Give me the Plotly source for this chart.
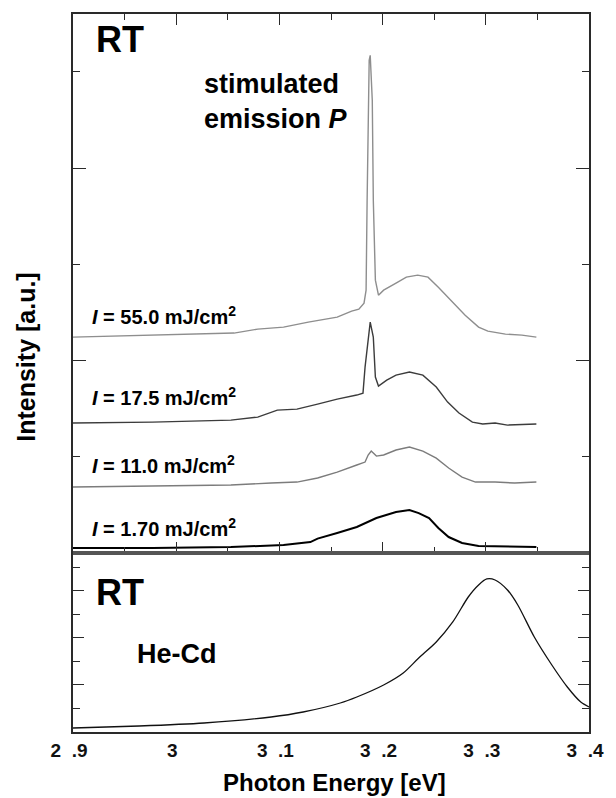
import plotly.graph_objects as go

FONT = "Liberation Sans, Arial, sans-serif"

# ---- upper panel spectra (Photon energy [eV], intensity [a.u.]) ----
x_55 = [2.900, 3.056, 3.079, 3.104, 3.128, 3.156, 3.170, 3.177, 3.182, 3.184, 3.185, 3.186, 3.187,
        3.188, 3.190, 3.191, 3.193, 3.196, 3.201, 3.213, 3.223, 3.234, 3.244, 3.254, 3.268, 3.280,
        3.293, 3.302, 3.319, 3.335, 3.349]
y_55 = [2.243, 2.285, 2.326, 2.347, 2.399, 2.451, 2.513, 2.534, 2.596, 2.731, 3.666, 4.496, 5.119,
        5.171, 4.704, 3.666, 2.835, 2.679, 2.731, 2.804, 2.866, 2.887, 2.866, 2.762, 2.606, 2.471,
        2.347, 2.305, 2.274, 2.264, 2.243]

x_175 = [2.900, 2.977, 3.053, 3.079, 3.098, 3.117, 3.137, 3.156, 3.175, 3.181, 3.183, 3.186, 3.188,
         3.191, 3.193, 3.196, 3.204, 3.213, 3.226, 3.239, 3.252, 3.263, 3.274, 3.287, 3.297, 3.309,
         3.321, 3.349]
y_175 = [1.350, 1.360, 1.381, 1.412, 1.485, 1.495, 1.547, 1.599, 1.641, 1.661, 1.931, 2.181, 2.399,
         2.243, 1.828, 1.734, 1.796, 1.848, 1.880, 1.848, 1.724, 1.568, 1.454, 1.360, 1.340, 1.350,
         1.329, 1.340]

x_110 = [2.900, 2.977, 3.053, 3.092, 3.117, 3.137, 3.156, 3.175, 3.183, 3.186, 3.189, 3.194, 3.201,
         3.213, 3.226, 3.239, 3.252, 3.264, 3.277, 3.290, 3.309, 3.328, 3.349]
y_110 = [0.685, 0.696, 0.706, 0.727, 0.737, 0.779, 0.841, 0.914, 0.945, 1.018, 1.059, 1.007, 1.018,
         1.070, 1.101, 1.059, 0.986, 0.883, 0.789, 0.737, 0.737, 0.727, 0.737]

x_17 = [2.900, 2.977, 3.053, 3.104, 3.130, 3.137, 3.156, 3.175, 3.194, 3.213, 3.226, 3.235, 3.245,
        3.254, 3.264, 3.277, 3.293, 3.349]
y_17 = [0.052, 0.052, 0.062, 0.083, 0.114, 0.150, 0.208, 0.270, 0.363, 0.426, 0.447, 0.415, 0.363,
        0.260, 0.166, 0.104, 0.073, 0.062]

# ---- lower panel: He-Cd excited PL ----
x_hecd = [2.900, 2.964, 3.027, 3.092, 3.123, 3.159, 3.175, 3.201, 3.220, 3.235, 3.252, 3.268, 3.283,
          3.293, 3.301, 3.309, 3.321, 3.331, 3.347, 3.364, 3.379, 3.392, 3.400]
y_hecd = [0.170, 0.255, 0.382, 0.637, 0.849, 1.231, 1.486, 1.996, 2.505, 3.142, 3.822, 4.671, 5.732,
          6.242, 6.497, 6.454, 6.030, 5.393, 4.034, 2.845, 1.911, 1.274, 1.062]

x_tickvals = [2.9, 3.0, 3.1, 3.2, 3.3, 3.4]
x_ticktext = ["2\u00a0\u00a0.9", "3", "3\u00a0\u00a0.1", "3\u00a0\u00a0.2", "3\u00a0\u00a0.3", "3\u00a0\u00a0.4"]

labels = ["<i>I</i> = 55.0 mJ/cm<sup>2</sup>", "<i>I</i> = 17.5 mJ/cm<sup>2</sup>",
          "<i>I</i> = 11.0 mJ/cm<sup>2</sup>", "<i>I</i> = 1.70 mJ/cm<sup>2</sup>"]

fig = go.Figure()
series = [(x_55, y_55, "#8e8e8e", 1.4), (x_175, y_175, "#3c3c3c", 1.4),
          (x_110, y_110, "#7c7c7c", 1.4), (x_17, y_17, "#000000", 2.0)]
for xs, ys, c, w in series:
    fig.add_trace(go.Scatter(x=xs, y=ys, mode="lines", line=dict(color=c, width=w),
                             xaxis="x2", yaxis="y2", showlegend=False, hoverinfo="skip"))
fig.add_trace(go.Scatter(x=x_hecd, y=y_hecd, mode="lines",
                         line=dict(color="#111111", width=1.3, shape="spline", smoothing=0.8),
                         xaxis="x", yaxis="y", showlegend=False, hoverinfo="skip"))

AX = "#2a2a2a"
split = 0.2493
fig.update_layout(
    width=616, height=798, margin=dict(l=73, r=21, t=14, b=66),
    paper_bgcolor="white", plot_bgcolor="white",
    font=dict(family=FONT, color="#111111"),
    xaxis=dict(domain=[0, 1], range=[2.9, 3.4], anchor="y", showgrid=False, zeroline=False,
               showline=True, linecolor=AX, linewidth=1.5, mirror=True, ticks="",
               tickvals=x_tickvals, ticktext=x_ticktext,
               ticklabelshift=-4,
               tickfont=dict(family=FONT, size=19, color="#111111", weight="bold")),
    yaxis=dict(domain=[0, split], range=[0, 7.6], anchor="x", showgrid=False, zeroline=False,
               showline=True, linecolor=AX, linewidth=1.5, mirror="ticks", ticks="inside",
               tickvals=[0, 2, 4, 6], ticklen=11, tickcolor=AX, tickwidth=1.3, showticklabels=False,
               minor=dict(tickvals=[1, 3, 5, 7], ticks="inside", ticklen=7, tickcolor=AX, tickwidth=1.3)),
    xaxis2=dict(domain=[0, 1], range=[2.9, 3.4], anchor="y2", showgrid=False, zeroline=False,
                showline=True, linecolor=AX, linewidth=1.5, mirror="ticks", ticks="inside",
                tickvals=[3.0, 3.1, 3.2, 3.3], ticklen=11, tickcolor=AX, tickwidth=1.3,
                showticklabels=False,
                minor=dict(tickvals=[2.95, 3.05, 3.15, 3.25, 3.35], ticks="inside", ticklen=6,
                           tickcolor=AX, tickwidth=1.3)),
    yaxis2=dict(domain=[split, 1], range=[0, 5.6], anchor="x2", showgrid=False, zeroline=False,
                showline=True, linecolor=AX, linewidth=1.5, mirror="ticks", ticks="inside",
                tickvals=[0, 2, 4], ticklen=13, tickcolor=AX, tickwidth=1.3, showticklabels=False,
                minor=dict(tickvals=[1, 3, 5], ticks="inside", ticklen=7, tickcolor=AX, tickwidth=1.3)),
)

# thick separator between panels
fig.add_shape(type="line", xref="paper", yref="paper", x0=0, x1=1, y0=split, y1=split,
              line=dict(color="#555555", width=4))

def ann(text, x, y, size, xanchor="left", angle=0):
    fig.add_annotation(text=text, xref="paper", yref="paper", x=x, y=y, showarrow=False,
                       xanchor=xanchor, yanchor="middle", textangle=angle, align="left",
                       font=dict(family=FONT, size=size, color="#000000"))

ann("<b>RT</b>", 0.040, 0.964, 36)
ann("<b>stimulated<br>emission <i>P</i></b>", 0.250, 0.878, 27)
label_y = [0.580, 0.467, 0.372, 0.285]
for t, yy in zip(labels, label_y):
    ann("<b>" + t + "</b>", 0.033, yy, 20)
ann("<b>RT</b>", 0.040, 0.194, 36)
ann("<b>He-Cd</b>", 0.120, 0.1086, 27)
ann("<b>Intensity [a.u.]</b>", -0.090, 0.522, 25, xanchor="center", angle=-90)
ann("<b>Photon Energy [eV]</b>", 0.506, -0.070, 24, xanchor="center")

fig.write_html("out.html")
